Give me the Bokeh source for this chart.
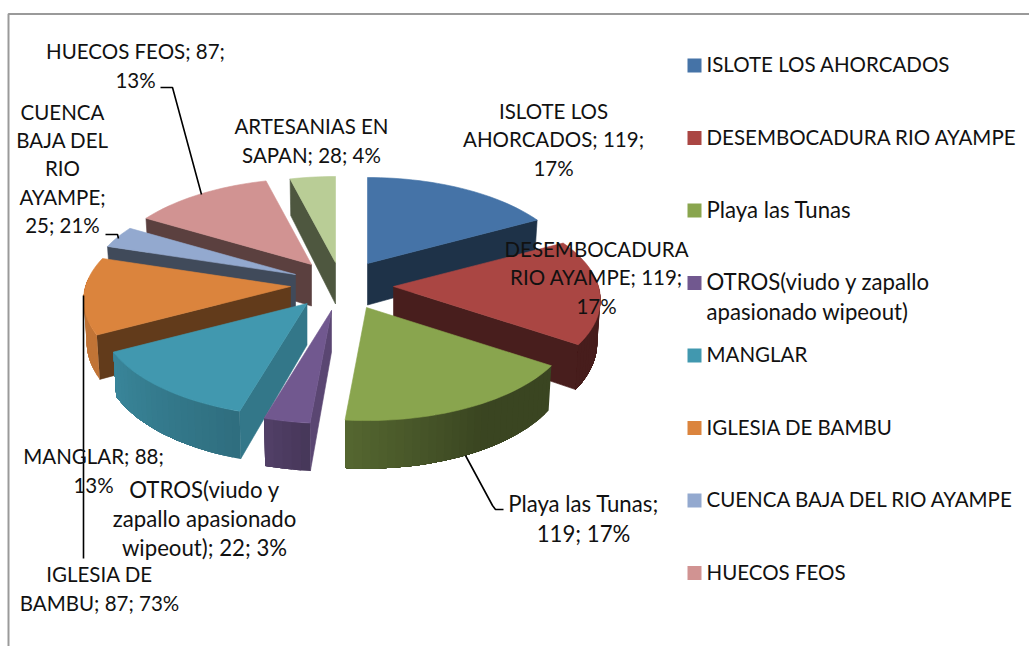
import math
from bokeh.plotting import figure
from bokeh.models import Range1d
from bokeh.core.properties import value
from bokeh.embed import file_html
from bokeh.resources import INLINE

values = [119, 119, 119, 22, 88, 87, 25, 87, 28]
colors = ["#4573A7", "#AA4643", "#89A54E", "#71588F", "#4198AF", "#DB843D", "#93A9CF", "#D19392", "#B9CD96"]
legend_names = ["ISLOTE LOS AHORCADOS", "DESEMBOCADURA RIO AYAMPE", "Playa las Tunas",
                "OTROS(viudo y zapallo\napasionado wipeout)", "MANGLAR", "IGLESIA DE BAMBU",
                "CUENCA  BAJA DEL RIO AYAMPE", "HUECOS FEOS"]
legend_mixed = [False, False, True, True, False, False, False, False]
labels = ["ISLOTE LOS\nAHORCADOS; 119;\n17%", "DESEMBOCADURA\nRIO AYAMPE; 119;\n17%",
          "Playa las Tunas;\n119; 17%", "OTROS(viudo y\nzapallo apasionado\nwipeout); 22; 3%",
          "MANGLAR; 88;\n13%", "IGLESIA DE\nBAMBU; 87; 73%", "CUENCA\nBAJA DEL\nRIO\nAYAMPE;\n25; 21%",
          "HUECOS FEOS; 87;\n13%", "ARTESANIAS EN\nSAPAN; 28; 4%"]
label_mixed = [False, False, True, True, False, False, False, False, False]
label_x = [553, 596, 583, 204, 93, 99, 62, 135, 311]
label_y = [139, 277, 518, 518, 470, 588, 168, 65, 140]

# where each exploded slice's tip sits on the page
apex_x = [367, 393, 366, 331, 306.5, 290, 295, 311, 335]
apex_y = [263, 286, 307, 310, 303, 286, 274, 264, 262]

FONT = "Lato"
CAPS = ("20.5px", 1.17)
MIXED = ("22.2px", 1.08)
R, RY, K, D, BS = 205.0, 97.7, 0.136, 41.5, 0.985


def hexshade(c, f):
    return "#%02x%02x%02x" % tuple(int(round(int(c[i:i + 2], 16) * f)) for i in (1, 3, 5))


def interp(table, t):
    for (a, fa), (b, fb) in zip(table, table[1:]):
        if a <= t <= b:
            return fa + (fb - fa) * (t - a) / (b - a)
    return table[-1][1]


RIM = [(0, .42), (90, .42), (150, .42), (185, .62), (196, .72), (242, .88), (360, .88)]
FACE = [(0, .44), (170, .42), (185, .8), (200, .78), (225, .45), (360, .42)]


def uv(t):
    r = math.radians(t)
    return math.sin(r), -math.cos(r)


def top(ap, t):
    u, v = uv(t)
    s = 1 / (1 - K * v)
    return ap[0] + R * u * s, ap[1] + RY * v * s


def bot(ap, t):
    u, v = uv(t)
    s = 1 / (1 - K * v)
    return ap[0] + R * u * s * BS, ap[1] + RY * v * s + D * s


total = sum(values)
angles = [0]
for val in values:
    angles.append(angles[-1] + val / total * 360)

polys = {}
for i, col in enumerate(colors):
    a, b = angles[i], angles[i + 1]
    mid = (a + b) / 2
    ap = (apex_x[i], apex_y[i])
    xs_all, ys_all, cs_all, la_all = [], [], [], []
    M = top(ap, mid)
    for t in (a, b):
        P = top(ap, t)
        if abs(P[0] - ap[0]) < 1:
            continue
        ly = ap[1] + (P[1] - ap[1]) * (M[0] - ap[0]) / (P[0] - ap[0])
        if M[1] < ly:
            Q = bot(ap, t)
            xs_all.append([ap[0], P[0], Q[0], ap[0]])
            ys_all.append([ap[1], P[1], Q[1], ap[1] + D])
            cs_all.append(hexshade(col, interp(FACE, t)))
            la_all.append(1)
    lo, hi = max(a, 85), min(b, 275)
    if hi > lo:
        n = max(1, int((hi - lo) / 2))
        for j in range(n):
            t1 = lo + (hi - lo) * j / n
            t2 = lo + (hi - lo) * (j + 1) / n
            m = max(2, int((hi - t1) / 2))
            ts = [t1 + (hi - t1) * q / m for q in range(m + 1)]
            tp = [top(ap, t) for t in ts]
            bt = [bot(ap, t) for t in reversed(ts)]
            xs_all.append([q[0] for q in tp + bt])
            ys_all.append([q[1] for q in tp + bt])
            cs_all.append(hexshade(col, interp(RIM, (t1 + t2) / 2)))
            la_all.append(0)
    n = max(4, int((b - a) / 2))
    pts = [top(ap, a + (b - a) * j / n) for j in range(n + 1)]
    xs_all.append([ap[0]] + [q[0] for q in pts])
    ys_all.append([ap[1]] + [q[1] for q in pts])
    cs_all.append(col)
    la_all.append(1)
    polys[i] = (xs_all, ys_all, cs_all, la_all)

p = figure(width=1029, height=646, output_backend="svg", toolbar_location=None,
           x_range=Range1d(0, 1029), y_range=Range1d(646, 0), min_border=0)
p.axis.visible = False
p.grid.visible = False
p.outline_line_color = None

p.line([8, 8, 1029], [646, 13.5, 13.5], line_color="#9a9a9a", line_width=2)

order = [8, 7, 6, 5, 0, 1, 4, 3, 2]
X, Y, C, A = [], [], [], []
for i in order:
    X += polys[i][0]
    Y += polys[i][1]
    C += polys[i][2]
    A += polys[i][3]
p.patches(xs=X, ys=Y, fill_color=C, line_color=C, line_alpha=A, line_width=0.6)

leaders = [([160, 172, 201], [87, 87, 194]),
           ([105, 117, 118], [234, 234, 238]),
           ([83, 83], [295, 558]),
           ([465, 492, 495, 503], [455, 505, 509, 509])]
for lx, ly in leaders:
    p.line(lx, ly, line_color="#000000", line_width=1.6)


def draw(xs, ys, txt, flags, align):
    for style, want in ((CAPS, False), (MIXED, True)):
        idx = [k for k, f in enumerate(flags) if f == want]
        p.text([xs[k] for k in idx], [ys[k] for k in idx], text=[txt[k] for k in idx],
               text_font=value(FONT), text_font_size=value(style[0]), text_align=align,
               text_baseline="middle", text_color="#111111", text_line_height=style[1])


draw(label_x, label_y, labels, label_mixed, "center")

LEG_X, LEG_Y, LEG_STEP = 694, 65, 72.5
ly = [LEG_Y + LEG_STEP * i for i in range(len(legend_names))]
p.rect([LEG_X] * len(ly), ly, width=14, height=14, fill_color=colors[:8], line_color=None)
ty = [y - 1.5 + (15 if "\n" in n else 0) for y, n in zip(ly, legend_names)]
draw([706] * len(ly), ty, legend_names, legend_mixed, "left")

open("out.html", "w").write(file_html(p, INLINE))
